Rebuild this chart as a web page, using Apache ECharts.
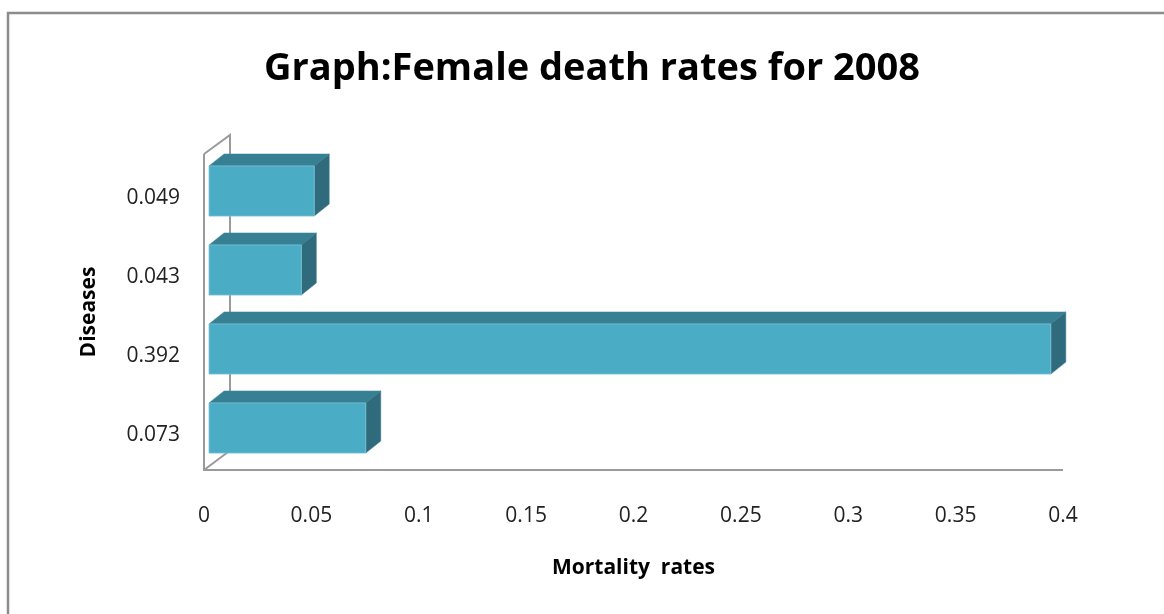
<!DOCTYPE html>
<html>
<head>
<meta charset="utf-8">
<script src="https://cdn.jsdelivr.net/npm/echarts@6/dist/echarts.min.js"></script>
<style>
html,body{margin:0;padding:0;background:#fff;}
#c{width:1164px;height:614px;}
</style>
</head>
<body>
<div id="c"></div>
<script>
var categories = ['0.073', '0.392', '0.043', '0.049'];
var values = [0.073, 0.392, 0.043, 0.049];
var xTicks = [0, 0.05, 0.1, 0.15, 0.2, 0.25, 0.3, 0.35, 0.4];

var FONT = 'Open Sans';
var chart = echarts.init(document.getElementById('c'));

function renderBar(params, api) {
  var val = api.value(0), cat = api.value(1);
  var s = api.coord([0, cat]);
  var e = api.coord([val, cat]);
  var band = api.size([0, 1])[1];
  var h = band * 0.635;
  var ox = 5, dx = 15, dy = -12;
  var x0 = s[0] + ox, x1 = e[0] + ox;
  var yc = s[1] - 2.5;
  var y0 = yc - h / 2, y1 = yc + h / 2;
  return {
    type: 'group',
    children: [
      { type: 'polygon', shape: { points: [[x0, y0], [x0 + dx, y0 + dy], [x1 + dx, y0 + dy], [x1, y0]] },
        style: { fill: '#377f93', stroke: '#3f8da1', lineWidth: 0.5 } },
      { type: 'polygon', shape: { points: [[x1, y0], [x1 + dx, y0 + dy], [x1 + dx, y1 + dy], [x1, y1]] },
        style: { fill: '#2f6b7c', stroke: '#3a7b8d', lineWidth: 0.5 } },
      { type: 'rect', shape: { x: x0, y: y0, width: x1 - x0, height: h },
        style: { fill: '#4bacc6', stroke: '#7cc3d6', lineWidth: 0.8 } }
    ]
  };
}

function renderWall(params, api) {
  var cs = params.coordSys;
  var L = cs.x, T = cs.y, R = cs.x + cs.width, B = cs.y + cs.height;
  var st = { stroke: '#9a9a9a', lineWidth: 2, fill: null };
  return {
    type: 'group',
    children: [
      { type: 'polyline', shape: { points: [[L + 26, B - 18], [L + 26, T - 19], [L, T]] }, style: st },
      { type: 'line', shape: { x1: L, y1: B, x2: L + 24, y2: B - 18 }, style: st },
      { type: 'polyline', shape: { points: [[L, T], [L, B], [R, B]] }, style: st }
    ]
  };
}

chart.setOption({
  animation: false,
  backgroundColor: '#ffffff',
  title: {
    text: 'Graph:Female death rates for 2008',
    left: 587, top: 45, textAlign: 'center',
    textStyle: { fontFamily: FONT, fontWeight: 'bold', fontSize: 38, color: '#000' }
  },
  graphic: [{
    type: 'polyline',
    shape: { points: [[8, 614], [8, 13], [1164, 13]] },
    style: { stroke: '#8c8c8c', lineWidth: 2.5, fill: null },
    z: 100
  }],
  grid: { left: 204, right: 101, top: 154, height: 316 },
  xAxis: {
    type: 'value', min: 0, max: 0.4, interval: 0.05,
    axisLine: { show: false }, axisTick: { show: false }, splitLine: { show: false },
    axisLabel: {
      margin: 36, fontFamily: FONT, fontSize: 21, color: '#222',
      formatter: function (v) {
        for (var i = 0; i < xTicks.length; i++) { if (Math.abs(xTicks[i] - v) < 1e-9) return String(xTicks[i]); }
        return '';
      }
    },
    name: 'Mortality  rates', nameLocation: 'middle', nameGap: 88,
    nameTextStyle: { fontFamily: FONT, fontWeight: 'bold', fontSize: 21, color: '#000' }
  },
  yAxis: {
    type: 'category', data: categories,
    axisLine: { show: false }, axisTick: { show: false }, splitLine: { show: false },
    axisLabel: {
      margin: 24, color: '#222',
      formatter: function (v) { return '{a|' + v + '}'; },
      rich: { a: { fontFamily: FONT, fontSize: 21, color: '#222', padding: [10, 0, 0, 0] } }
    },
    name: 'Diseases', nameLocation: 'middle', nameGap: 104, nameRotate: 90,
    nameTextStyle: { fontFamily: FONT, fontWeight: 'bold', fontSize: 21, color: '#000' }
  },
  series: [
    { type: 'custom', renderItem: renderWall, data: [[0, 0]], z: 1, silent: true, encode: { x: 0, y: 1 } },
    { type: 'custom', renderItem: renderBar, z: 2,
      data: values.map(function (v, i) { return [v, i]; }),
      encode: { x: 0, y: 1 } }
  ]
});
</script>
</body>
</html>
